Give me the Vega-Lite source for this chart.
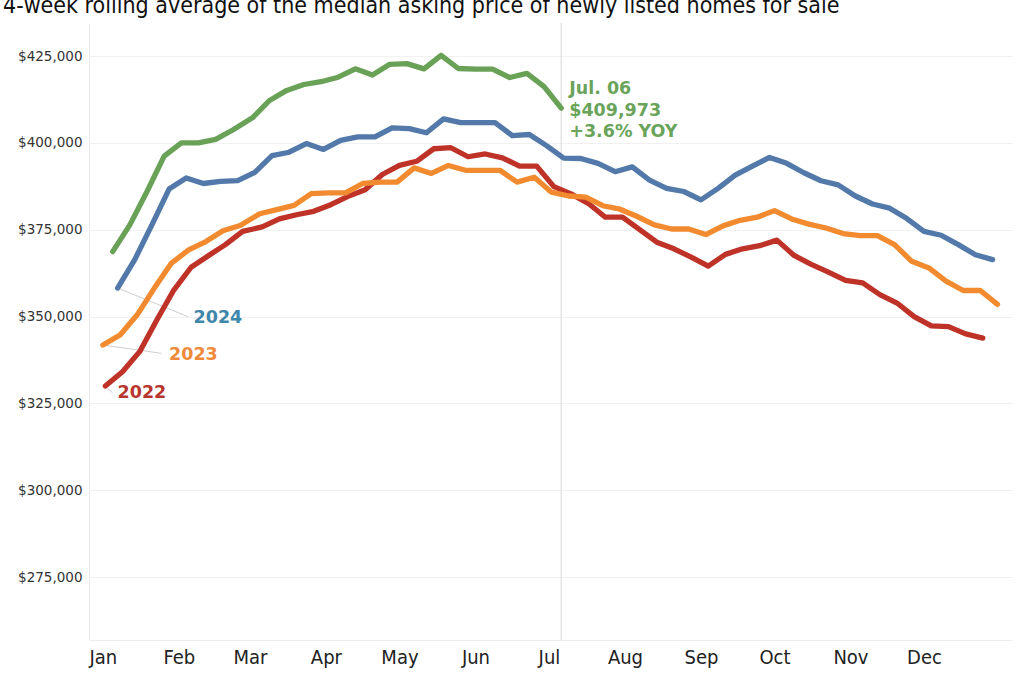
{
  "$schema": "https://vega.github.io/schema/vega-lite/v6.json",
  "autosize": {"type": "none"},
  "width": 923,
  "height": 617,
  "padding": {"left": 89, "top": 23, "right": 12, "bottom": 35},
  "background": "white",
  "title": {
    "text": "4-week rolling average of the median asking price of newly listed homes for sale",
    "anchor": "start",
    "frame": "group",
    "dx": -86,
    "offset": 4,
    "font": "DejaVu Sans Condensed",
    "fontSize": 23,
    "fontWeight": "normal",
    "color": "#111111"
  },
  "config": {
    "view": {"stroke": null},
    "axis": {"ticks": false, "title": null}
  },
  "datasets": {
    "prices": [
      {"year": "2022", "date": "2022-01-02", "price": 330000},
      {"year": "2022", "date": "2022-01-09", "price": 334100},
      {"year": "2022", "date": "2022-01-16", "price": 339900},
      {"year": "2022", "date": "2022-01-23", "price": 349000},
      {"year": "2022", "date": "2022-01-30", "price": 357700},
      {"year": "2022", "date": "2022-02-06", "price": 364200},
      {"year": "2022", "date": "2022-02-13", "price": 367500},
      {"year": "2022", "date": "2022-02-20", "price": 370700},
      {"year": "2022", "date": "2022-02-27", "price": 374500},
      {"year": "2022", "date": "2022-03-06", "price": 375800},
      {"year": "2022", "date": "2022-03-13", "price": 378100},
      {"year": "2022", "date": "2022-03-20", "price": 379300},
      {"year": "2022", "date": "2022-03-27", "price": 380300},
      {"year": "2022", "date": "2022-04-03", "price": 382200},
      {"year": "2022", "date": "2022-04-10", "price": 384600},
      {"year": "2022", "date": "2022-04-17", "price": 386500},
      {"year": "2022", "date": "2022-04-24", "price": 390900},
      {"year": "2022", "date": "2022-05-01", "price": 393500},
      {"year": "2022", "date": "2022-05-08", "price": 394700},
      {"year": "2022", "date": "2022-05-15", "price": 398300},
      {"year": "2022", "date": "2022-05-22", "price": 398600},
      {"year": "2022", "date": "2022-05-29", "price": 396000},
      {"year": "2022", "date": "2022-06-05", "price": 396800},
      {"year": "2022", "date": "2022-06-12", "price": 395700},
      {"year": "2022", "date": "2022-06-19", "price": 393300},
      {"year": "2022", "date": "2022-06-26", "price": 393300},
      {"year": "2022", "date": "2022-07-03", "price": 387400},
      {"year": "2022", "date": "2022-07-10", "price": 385300},
      {"year": "2022", "date": "2022-07-17", "price": 382600},
      {"year": "2022", "date": "2022-07-24", "price": 378600},
      {"year": "2022", "date": "2022-07-31", "price": 378600},
      {"year": "2022", "date": "2022-08-07", "price": 375000},
      {"year": "2022", "date": "2022-08-14", "price": 371400},
      {"year": "2022", "date": "2022-08-21", "price": 369500},
      {"year": "2022", "date": "2022-08-28", "price": 367100},
      {"year": "2022", "date": "2022-09-04", "price": 364500},
      {"year": "2022", "date": "2022-09-11", "price": 367900},
      {"year": "2022", "date": "2022-09-18", "price": 369500},
      {"year": "2022", "date": "2022-09-25", "price": 370400},
      {"year": "2022", "date": "2022-10-02", "price": 372000},
      {"year": "2022", "date": "2022-10-09", "price": 367600},
      {"year": "2022", "date": "2022-10-16", "price": 365000},
      {"year": "2022", "date": "2022-10-23", "price": 362800},
      {"year": "2022", "date": "2022-10-30", "price": 360400},
      {"year": "2022", "date": "2022-11-06", "price": 359700},
      {"year": "2022", "date": "2022-11-13", "price": 356300},
      {"year": "2022", "date": "2022-11-20", "price": 353900},
      {"year": "2022", "date": "2022-11-27", "price": 350000},
      {"year": "2022", "date": "2022-12-04", "price": 347300},
      {"year": "2022", "date": "2022-12-11", "price": 347100},
      {"year": "2022", "date": "2022-12-18", "price": 345000},
      {"year": "2022", "date": "2022-12-25", "price": 343800},

      {"year": "2023", "date": "2023-01-01", "price": 341800},
      {"year": "2023", "date": "2023-01-08", "price": 344700},
      {"year": "2023", "date": "2023-01-15", "price": 350500},
      {"year": "2023", "date": "2023-01-22", "price": 358200},
      {"year": "2023", "date": "2023-01-29", "price": 365400},
      {"year": "2023", "date": "2023-02-05", "price": 369200},
      {"year": "2023", "date": "2023-02-12", "price": 371600},
      {"year": "2023", "date": "2023-02-19", "price": 374700},
      {"year": "2023", "date": "2023-02-26", "price": 376200},
      {"year": "2023", "date": "2023-03-05", "price": 379600},
      {"year": "2023", "date": "2023-03-12", "price": 380800},
      {"year": "2023", "date": "2023-03-19", "price": 382000},
      {"year": "2023", "date": "2023-03-26", "price": 385400},
      {"year": "2023", "date": "2023-04-02", "price": 385600},
      {"year": "2023", "date": "2023-04-09", "price": 385600},
      {"year": "2023", "date": "2023-04-16", "price": 388300},
      {"year": "2023", "date": "2023-04-23", "price": 388700},
      {"year": "2023", "date": "2023-04-30", "price": 388700},
      {"year": "2023", "date": "2023-05-07", "price": 392800},
      {"year": "2023", "date": "2023-05-14", "price": 391200},
      {"year": "2023", "date": "2023-05-21", "price": 393500},
      {"year": "2023", "date": "2023-05-28", "price": 392100},
      {"year": "2023", "date": "2023-06-04", "price": 392100},
      {"year": "2023", "date": "2023-06-11", "price": 392100},
      {"year": "2023", "date": "2023-06-18", "price": 388700},
      {"year": "2023", "date": "2023-06-25", "price": 390100},
      {"year": "2023", "date": "2023-07-02", "price": 385800},
      {"year": "2023", "date": "2023-07-09", "price": 384700},
      {"year": "2023", "date": "2023-07-16", "price": 384400},
      {"year": "2023", "date": "2023-07-23", "price": 381900},
      {"year": "2023", "date": "2023-07-30", "price": 380900},
      {"year": "2023", "date": "2023-08-06", "price": 378800},
      {"year": "2023", "date": "2023-08-13", "price": 376400},
      {"year": "2023", "date": "2023-08-20", "price": 375200},
      {"year": "2023", "date": "2023-08-27", "price": 375200},
      {"year": "2023", "date": "2023-09-03", "price": 373600},
      {"year": "2023", "date": "2023-09-10", "price": 376100},
      {"year": "2023", "date": "2023-09-17", "price": 377700},
      {"year": "2023", "date": "2023-09-24", "price": 378600},
      {"year": "2023", "date": "2023-10-01", "price": 380500},
      {"year": "2023", "date": "2023-10-08", "price": 378100},
      {"year": "2023", "date": "2023-10-15", "price": 376600},
      {"year": "2023", "date": "2023-10-22", "price": 375500},
      {"year": "2023", "date": "2023-10-29", "price": 373900},
      {"year": "2023", "date": "2023-11-05", "price": 373300},
      {"year": "2023", "date": "2023-11-12", "price": 373300},
      {"year": "2023", "date": "2023-11-19", "price": 370700},
      {"year": "2023", "date": "2023-11-26", "price": 365900},
      {"year": "2023", "date": "2023-12-03", "price": 364000},
      {"year": "2023", "date": "2023-12-10", "price": 360200},
      {"year": "2023", "date": "2023-12-17", "price": 357500},
      {"year": "2023", "date": "2023-12-24", "price": 357500},
      {"year": "2023", "date": "2023-12-31", "price": 353500},

      {"year": "2024", "date": "2024-01-07", "price": 358200},
      {"year": "2024", "date": "2024-01-14", "price": 366400},
      {"year": "2024", "date": "2024-01-21", "price": 376400},
      {"year": "2024", "date": "2024-01-28", "price": 386700},
      {"year": "2024", "date": "2024-02-04", "price": 389900},
      {"year": "2024", "date": "2024-02-11", "price": 388300},
      {"year": "2024", "date": "2024-02-18", "price": 388900},
      {"year": "2024", "date": "2024-02-25", "price": 389100},
      {"year": "2024", "date": "2024-03-03", "price": 391500},
      {"year": "2024", "date": "2024-03-10", "price": 396300},
      {"year": "2024", "date": "2024-03-17", "price": 397300},
      {"year": "2024", "date": "2024-03-24", "price": 399800},
      {"year": "2024", "date": "2024-03-31", "price": 398100},
      {"year": "2024", "date": "2024-04-07", "price": 400700},
      {"year": "2024", "date": "2024-04-14", "price": 401700},
      {"year": "2024", "date": "2024-04-21", "price": 401700},
      {"year": "2024", "date": "2024-04-28", "price": 404300},
      {"year": "2024", "date": "2024-05-05", "price": 404100},
      {"year": "2024", "date": "2024-05-12", "price": 402900},
      {"year": "2024", "date": "2024-05-19", "price": 406900},
      {"year": "2024", "date": "2024-05-26", "price": 405800},
      {"year": "2024", "date": "2024-06-02", "price": 405800},
      {"year": "2024", "date": "2024-06-09", "price": 405800},
      {"year": "2024", "date": "2024-06-16", "price": 402100},
      {"year": "2024", "date": "2024-06-23", "price": 402400},
      {"year": "2024", "date": "2024-06-30", "price": 399200},
      {"year": "2024", "date": "2024-07-07", "price": 395600},
      {"year": "2024", "date": "2024-07-14", "price": 395500},
      {"year": "2024", "date": "2024-07-21", "price": 394100},
      {"year": "2024", "date": "2024-07-28", "price": 391700},
      {"year": "2024", "date": "2024-08-04", "price": 393100},
      {"year": "2024", "date": "2024-08-11", "price": 389300},
      {"year": "2024", "date": "2024-08-18", "price": 386900},
      {"year": "2024", "date": "2024-08-25", "price": 386000},
      {"year": "2024", "date": "2024-09-01", "price": 383600},
      {"year": "2024", "date": "2024-09-08", "price": 386900},
      {"year": "2024", "date": "2024-09-15", "price": 390700},
      {"year": "2024", "date": "2024-09-22", "price": 393300},
      {"year": "2024", "date": "2024-09-29", "price": 395800},
      {"year": "2024", "date": "2024-10-06", "price": 394100},
      {"year": "2024", "date": "2024-10-13", "price": 391400},
      {"year": "2024", "date": "2024-10-20", "price": 389100},
      {"year": "2024", "date": "2024-10-27", "price": 387900},
      {"year": "2024", "date": "2024-11-03", "price": 384700},
      {"year": "2024", "date": "2024-11-10", "price": 382400},
      {"year": "2024", "date": "2024-11-17", "price": 381200},
      {"year": "2024", "date": "2024-11-24", "price": 378200},
      {"year": "2024", "date": "2024-12-01", "price": 374500},
      {"year": "2024", "date": "2024-12-08", "price": 373400},
      {"year": "2024", "date": "2024-12-15", "price": 370700},
      {"year": "2024", "date": "2024-12-22", "price": 367800},
      {"year": "2024", "date": "2024-12-29", "price": 366400},

      {"year": "2025", "date": "2025-01-05", "price": 368700},
      {"year": "2025", "date": "2025-01-12", "price": 376400},
      {"year": "2025", "date": "2025-01-19", "price": 386000},
      {"year": "2025", "date": "2025-01-26", "price": 396200},
      {"year": "2025", "date": "2025-02-02", "price": 400000},
      {"year": "2025", "date": "2025-02-09", "price": 400000},
      {"year": "2025", "date": "2025-02-16", "price": 401000},
      {"year": "2025", "date": "2025-02-23", "price": 403700},
      {"year": "2025", "date": "2025-03-02", "price": 407200},
      {"year": "2025", "date": "2025-03-09", "price": 412200},
      {"year": "2025", "date": "2025-03-16", "price": 415100},
      {"year": "2025", "date": "2025-03-23", "price": 416800},
      {"year": "2025", "date": "2025-03-30", "price": 417600},
      {"year": "2025", "date": "2025-04-06", "price": 418900},
      {"year": "2025", "date": "2025-04-13", "price": 421300},
      {"year": "2025", "date": "2025-04-20", "price": 419500},
      {"year": "2025", "date": "2025-04-27", "price": 422600},
      {"year": "2025", "date": "2025-05-04", "price": 422800},
      {"year": "2025", "date": "2025-05-11", "price": 421300},
      {"year": "2025", "date": "2025-05-18", "price": 425200},
      {"year": "2025", "date": "2025-05-25", "price": 421400},
      {"year": "2025", "date": "2025-06-01", "price": 421200},
      {"year": "2025", "date": "2025-06-08", "price": 421200},
      {"year": "2025", "date": "2025-06-15", "price": 418800},
      {"year": "2025", "date": "2025-06-22", "price": 420000},
      {"year": "2025", "date": "2025-06-29", "price": 416200},
      {"year": "2025", "date": "2025-07-06", "price": 409973}
    ],
    "labels": [
      {"year": "2022", "text": "2022", "date": "2022-01-02", "price": 330000, "labelDate": "2022-01-05", "labelPrice": 328000, "textDate": "2022-01-07", "textPrice": 328000},
      {"year": "2023", "text": "2023", "date": "2023-01-01", "price": 341800, "labelDate": "2023-01-25", "labelPrice": 339400, "textDate": "2023-01-28", "textPrice": 338900},
      {"year": "2024", "text": "2024", "date": "2024-01-07", "price": 358200, "labelDate": "2024-02-05", "labelPrice": 349900, "textDate": "2024-02-07", "textPrice": 349600}
    ],
    "current": [
      {"year": "2025", "date": "2025-07-06", "price": 409973, "text": ["Jul. 06", "$409,973", "+3.6% YOY"]}
    ]
  },
  "layer": [
    {
      "data": {"name": "current"},
      "mark": {"type": "rule", "color": "#dddddd", "strokeWidth": 1.2},
      "encoding": {
        "x": {"field": "date", "timeUnit": "utcmonthdate", "type": "temporal"}
      }
    },
    {
      "data": {"name": "labels"},
      "mark": {"type": "rule", "color": "#cfcfcf", "strokeWidth": 1},
      "encoding": {
        "x": {"field": "date", "timeUnit": "utcmonthdate", "type": "temporal"},
        "y": {"field": "price", "type": "quantitative"},
        "x2": {"field": "labelDate", "timeUnit": "utcmonthdate"},
        "y2": {"field": "labelPrice"}
      }
    },
    {
      "data": {"name": "prices"},
      "mark": {"type": "line", "strokeWidth": 5.3, "strokeCap": "round", "strokeJoin": "round"},
      "encoding": {
        "x": {
          "field": "date", "timeUnit": "utcmonthdate", "type": "temporal",
          "scale": {"type": "utc", "domain": [
            {"year": 2011, "month": 12, "date": 26, "hours": 8, "utc": true},
            {"year": 2013, "month": 1, "date": 5, "hours": 22, "utc": true}
          ]},
          "axis": {
            "values": [
              {"year": 2012, "month": 1, "date": 1, "utc": true},
              {"year": 2012, "month": 2, "date": 1, "utc": true},
              {"year": 2012, "month": 3, "date": 1, "utc": true},
              {"year": 2012, "month": 4, "date": 1, "utc": true},
              {"year": 2012, "month": 5, "date": 1, "utc": true},
              {"year": 2012, "month": 6, "date": 1, "utc": true},
              {"year": 2012, "month": 7, "date": 1, "utc": true},
              {"year": 2012, "month": 8, "date": 1, "utc": true},
              {"year": 2012, "month": 9, "date": 1, "utc": true},
              {"year": 2012, "month": 10, "date": 1, "utc": true},
              {"year": 2012, "month": 11, "date": 1, "utc": true},
              {"year": 2012, "month": 12, "date": 1, "utc": true}
            ],
            "labelExpr": "utcFormat(datum.value, '%b')",
            "labelFont": "DejaVu Sans Condensed",
            "labelFontSize": 20,
            "labelColor": "#222222",
            "labelPadding": 7,
            "labelFlush": false,
            "labelOverlap": false,
            "grid": false,
            "domain": true,
            "domainColor": "#ececec",
            "domainWidth": 1
          }
        },
        "y": {
          "field": "price", "type": "quantitative",
          "scale": {"domain": [256900, 434500], "nice": false, "zero": false},
          "axis": {
            "values": [275000, 300000, 325000, 350000, 375000, 400000, 425000],
            "format": "$,.0f",
            "labelFont": "DejaVu Sans",
            "labelFontSize": 13.5,
            "labelColor": "#333333",
            "labelPadding": 7,
            "grid": true,
            "gridColor": "#f1f1f1",
            "gridWidth": 1,
            "domain": true,
            "domainColor": "#ececec"
          }
        },
        "color": {
          "field": "year", "type": "nominal",
          "scale": {"domain": ["2022", "2023", "2024", "2025"], "range": ["#bf3228", "#f28b30", "#5279a9", "#69a257"]},
          "legend": null
        },
        "detail": {"field": "year"}
      }
    },
    {
      "data": {"name": "labels"},
      "mark": {"type": "text", "align": "left", "baseline": "middle", "font": "DejaVu Sans", "fontWeight": "bold", "fontSize": 17.5},
      "encoding": {
        "x": {"field": "textDate", "timeUnit": "utcmonthdate", "type": "temporal"},
        "y": {"field": "textPrice", "type": "quantitative"},
        "text": {"field": "text"},
        "color": {
          "field": "year", "type": "nominal",
          "scale": {"domain": ["2022", "2023", "2024", "2025"], "range": ["#b8352d", "#f08a3a", "#3f86ab", "#6aa35a"]},
          "legend": null
        }
      }
    },
    {
      "data": {"name": "current"},
      "mark": {"type": "text", "align": "left", "baseline": "middle", "font": "DejaVu Sans", "fontWeight": "bold", "fontSize": 17.5, "lineHeight": 21.5, "dx": 8, "dy": -19},
      "encoding": {
        "x": {"field": "date", "timeUnit": "utcmonthdate", "type": "temporal"},
        "y": {"field": "price", "type": "quantitative"},
        "text": {"field": "text"},
        "color": {
          "field": "year", "type": "nominal",
          "scale": {"domain": ["2022", "2023", "2024", "2025"], "range": ["#b8352d", "#f08a3a", "#3f86ab", "#6aa35a"]},
          "legend": null
        }
      }
    }
  ],
  "resolve": {"scale": {"color": "independent"}}
}
